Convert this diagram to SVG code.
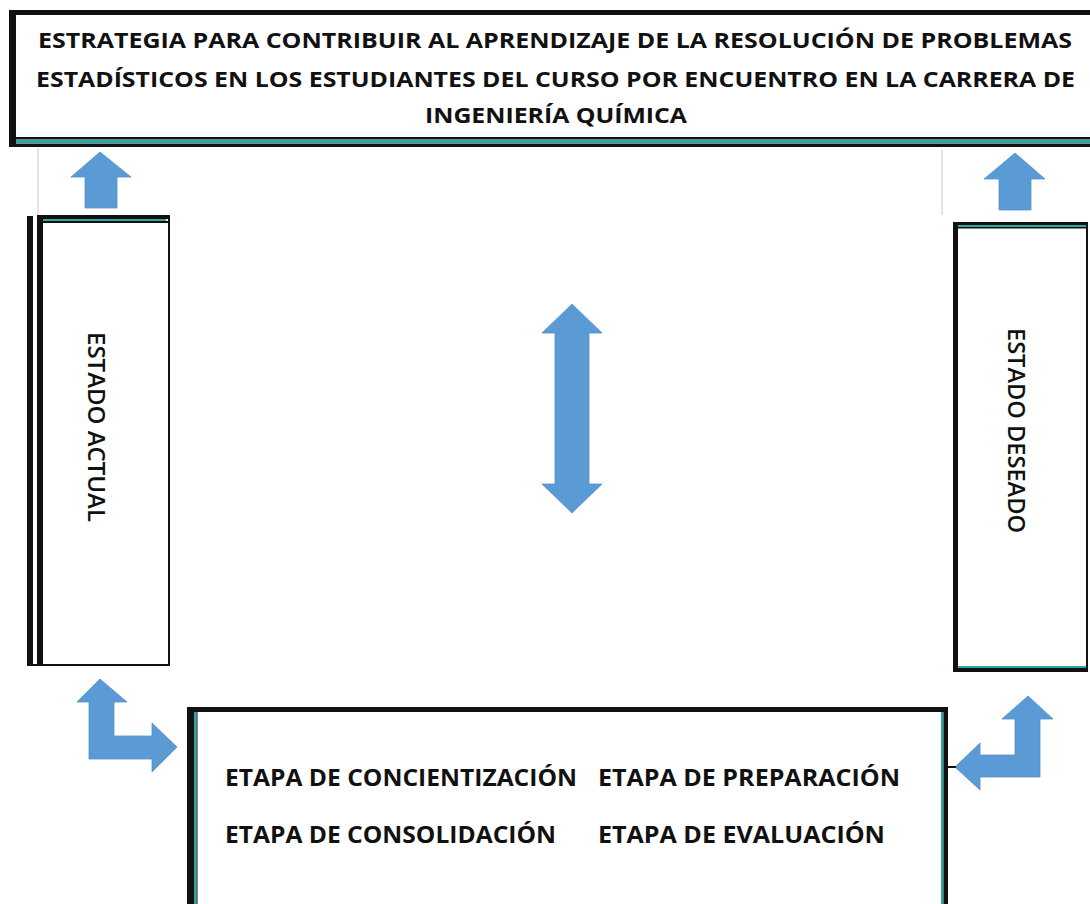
<svg xmlns="http://www.w3.org/2000/svg" width="1090" height="904" viewBox="0 0 1090 904">
<style>
.t{font-family:"Open Sans","Liberation Sans",sans-serif;font-weight:bold;fill:#111;}
.v{font-family:"Open Sans","Liberation Sans",sans-serif;font-weight:600;fill:#111;}
.blk{fill:#111;}
.teal{fill:#2aa8a6;}
.arr{fill:#5b9bd5;stroke:#5590c8;stroke-width:0.8;}
.guide{stroke:#cfcfcf;stroke-width:1.2;}
</style>
<rect x="0" y="0" width="1090" height="904" fill="#fff"/>
<g id="guides">
<line class="guide" x1="38" y1="148" x2="38" y2="215"/>
<line class="guide" x1="942" y1="150" x2="942" y2="215"/>
</g>
<g id="title">
<rect x="9" y="10" width="1085" height="137" fill="#fff"/>
<rect class="blk" x="9" y="10" width="1081" height="5"/>
<rect class="blk" x="9" y="10" width="7" height="137"/>
<rect class="blk" x="16" y="137" width="1074" height="2.5"/>
<rect class="teal" x="16" y="140" width="1074" height="3"/>
<rect class="blk" x="9" y="143.5" width="1081" height="3.5"/>
<text class="t" x="38" y="48" font-size="22" textLength="1034" lengthAdjust="spacingAndGlyphs">ESTRATEGIA PARA CONTRIBUIR AL APRENDIZAJE DE LA RESOLUCIÓN DE PROBLEMAS</text>
<text class="t" x="36" y="87" font-size="22" textLength="1039" lengthAdjust="spacingAndGlyphs">ESTADÍSTICOS EN LOS ESTUDIANTES DEL CURSO POR ENCUENTRO EN LA CARRERA DE</text>
<text class="t" x="425" y="123" font-size="22" textLength="262" lengthAdjust="spacingAndGlyphs">INGENIERÍA QUÍMICA</text>
</g>
<g id="estado-actual">
<rect x="27" y="216" width="143" height="450" fill="#fff"/>
<rect class="blk" x="27" y="216" width="6" height="450"/>
<rect class="blk" x="37" y="216" width="6" height="450"/>
<rect class="blk" x="37" y="215" width="133" height="4"/>
<rect class="teal" x="43" y="219" width="123" height="2"/>
<rect class="blk" x="43" y="221" width="127" height="2"/>
<rect class="blk" x="168" y="215" width="2" height="451"/>
<rect class="blk" x="27" y="664" width="143" height="2"/>
<text class="v" x="0" y="0" font-size="23" textLength="190" lengthAdjust="spacingAndGlyphs" transform="translate(88,332) rotate(90)">ESTADO ACTUAL</text>
</g>
<g id="estado-deseado">
<rect x="953" y="222" width="135" height="450" fill="#fff"/>
<rect class="blk" x="953" y="222" width="5" height="450"/>
<rect class="blk" x="953" y="222" width="135" height="3"/>
<rect class="teal" x="958" y="225" width="128" height="2"/>
<rect class="blk" x="958" y="227" width="130" height="1.5"/>
<rect class="blk" x="1086" y="222" width="2" height="450"/>
<rect class="teal" x="958" y="666" width="128" height="2"/>
<rect class="blk" x="953" y="668" width="135" height="4"/>
<text class="v" x="0" y="0" font-size="23" textLength="205" lengthAdjust="spacingAndGlyphs" transform="translate(1008,328) rotate(90)">ESTADO DESEADO</text>
</g>
<g id="etapas">
<rect x="187" y="707" width="761" height="200" fill="#fff"/>
<rect class="blk" x="187" y="707" width="761" height="5"/>
<rect class="blk" x="187" y="707" width="7" height="200"/>
<rect class="teal" x="194" y="712" width="2.5" height="195"/>
<rect class="blk" x="196.5" y="712" width="1" height="195"/>
<rect class="teal" x="941" y="712" width="2.5" height="195"/>
<rect class="blk" x="943.5" y="707" width="4.5" height="200"/>
<text class="t" x="225" y="786" font-size="23" textLength="352" lengthAdjust="spacingAndGlyphs">ETAPA DE CONCIENTIZACIÓN</text>
<text class="t" x="598" y="786" font-size="23" textLength="302" lengthAdjust="spacingAndGlyphs">ETAPA DE PREPARACIÓN</text>
<text class="t" x="225" y="843" font-size="23" textLength="331" lengthAdjust="spacingAndGlyphs">ETAPA DE CONSOLIDACIÓN</text>
<text class="t" x="598" y="843" font-size="23" textLength="287" lengthAdjust="spacingAndGlyphs">ETAPA DE EVALUACIÓN</text>
</g>
<g id="connectors">
<polygon class="arr" points="100,152 131,177 117,177 117,208 85,208 85,177 71,177"/>
<polygon class="arr" points="1015,153 1045,179 1031,179 1031,210 999,210 999,179 984,179"/>
<polygon class="arr" points="572,304 602,333 589,333 589,484 602,484 572,513 542,484 555,484 555,333 542,333"/>
<polygon class="arr" points="100,679 127,702 114,702 114,736 152,736 152,723 177,747 152,772 152,759 89,759 89,702 77,702"/>
<polygon class="arr" points="1028,696 1053,719 1040,719 1040,777 980,777 980,790 955,767 980,743 980,755 1015,755 1015,719 1002,719"/>
<line x1="947" y1="767" x2="956" y2="767" stroke="#111" stroke-width="2"/>
</g>
</svg>
